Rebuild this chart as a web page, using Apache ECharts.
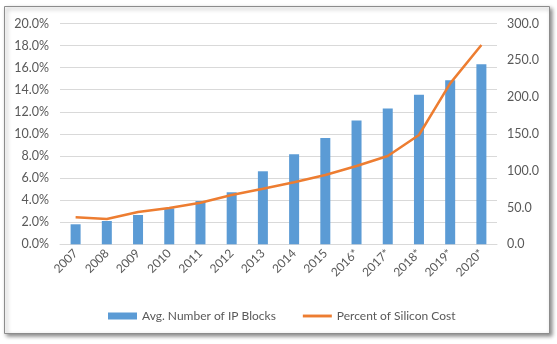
<!DOCTYPE html>
<html><head><meta charset="utf-8">
<script src="https://cdn.jsdelivr.net/npm/echarts@6/dist/echarts.min.js"></script>
<style>html,body{margin:0;padding:0;background:#fff}#c{width:557px;height:344px}</style>
</head><body><div id="c"></div>
<script>
const categories = ['2007','2008','2009','2010','2011','2012','2013','2014','2015','2016*','2017*','2018*','2019*','2020*'];
const ipBlocks = [27.2, 31.7, 39.8, 48.9, 58.8, 70.7, 99.2, 122.2, 144.3, 168.3, 184.6, 203.1, 223.0, 244.8];
const siliconCost = [2.45, 2.29, 2.93, 3.29, 3.77, 4.47, 5.04, 5.62, 6.28, 7.09, 8.0, 9.9, 14.58, 18.05];
const leftTicks = {min: 0, max: 20, interval: 2};
const rightTicks = {min: 0, max: 300, interval: 50};
const seriesNames = ['Avg. Number of IP Blocks', 'Percent of Silicon Cost'];

const FONT = 'Lato';
const chart = echarts.init(document.getElementById('c'), null, {renderer: 'canvas'});
chart.setOption({
  animation: false,
  textStyle: {fontFamily: FONT},
  graphic: [{
    type: 'rect', left: 4, top: 6, z: -10,
    shape: {width: 545, height: 327},
    style: {fill: '#fff', stroke: '#8c8c8c', lineWidth: 1,
      shadowBlur: 4, shadowOffsetX: 2, shadowOffsetY: 2, shadowColor: 'rgba(0,0,0,0.45)'}
  }],
  grid: {left: 60, right: 60, top: 23.5, bottom: 99.7},
  legend: {
    left: 103, top: 305, itemGap: 27, itemWidth: 29, itemHeight: 7,
    textStyle: {fontFamily: FONT, fontSize: 12, color: '#595959'},
    data: [
      {name: seriesNames[0], icon: 'rect'},
      {name: seriesNames[1], icon: 'path://M0 0H30V3H0Z'}
    ]
  },
  xAxis: {
    type: 'category', data: categories,
    axisLine: {lineStyle: {color: '#d9d9d9'}},
    axisTick: {show: false},
    axisLabel: {rotate: 45, color: '#595959', fontSize: 12, fontFamily: FONT, margin: 7, interval: 0}
  },
  yAxis: [{
    type: 'value', min: leftTicks.min, max: leftTicks.max, interval: leftTicks.interval,
    axisLabel: {formatter: v => v.toFixed(1) + '%', color: '#595959', fontSize: 12.5, fontFamily: FONT, margin: 11},
    splitLine: {lineStyle: {color: '#d9d9d9'}},
    axisLine: {show: false}, axisTick: {show: false}
  }, {
    type: 'value', min: rightTicks.min, max: rightTicks.max, interval: rightTicks.interval,
    axisLabel: {formatter: v => v.toFixed(1), color: '#595959', fontSize: 12.5, fontFamily: FONT, margin: 10},
    splitLine: {show: false},
    axisLine: {show: false}, axisTick: {show: false}
  }],
  series: [{
    name: seriesNames[0], type: 'bar', yAxisIndex: 1, data: ipBlocks,
    barWidth: 10, itemStyle: {color: '#5b9bd5'}
  }, {
    name: seriesNames[1], type: 'line', yAxisIndex: 0, data: siliconCost,
    symbol: 'none', lineStyle: {color: '#ed7d31', width: 2.5}, itemStyle: {color: '#ed7d31'}
  }]
});
</script></body></html>
